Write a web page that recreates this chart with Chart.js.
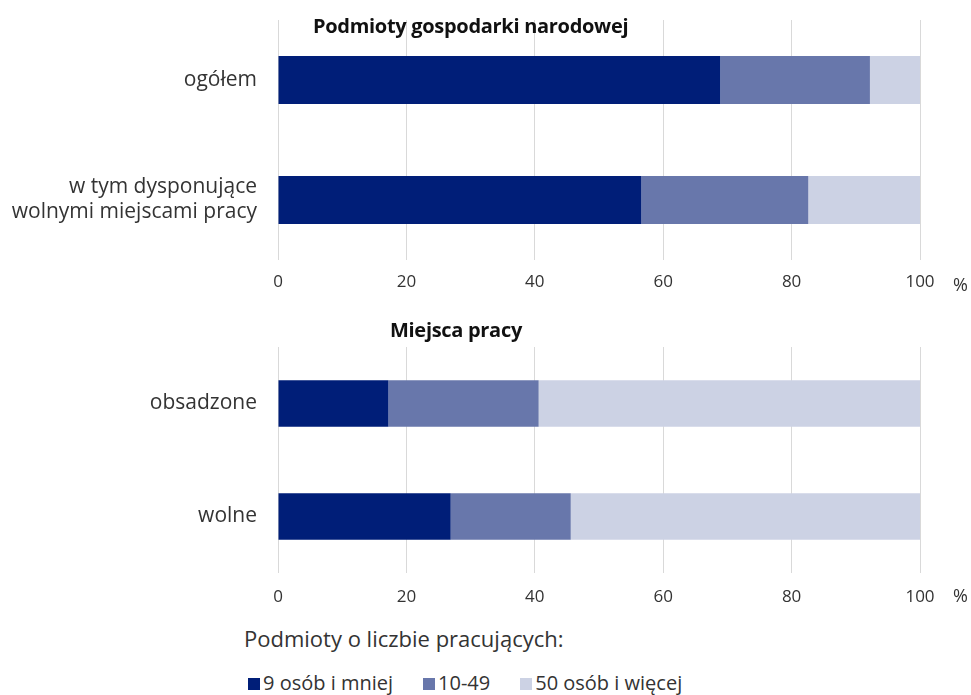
<!DOCTYPE html>
<html>
<head>
<meta charset="utf-8">
<script src="https://cdn.jsdelivr.net/npm/chart.js@4"></script>
<style>
  body { margin: 0; background: #fff; font-family: "Open Sans", sans-serif; color: #333; }
  #wrap { position: relative; width: 971px; height: 695px; overflow: hidden; }
  .box { position: absolute; left: 0; width: 971px; }
  .ttl { position: absolute; font-weight: bold; font-size: 20px; line-height: 20px; color: #111; white-space: nowrap; letter-spacing: -0.3px; }
  .pct { position: absolute; font-size: 18px; color: #333; }
  #legendTitle { position: absolute; left: 244px; top: 627px; font-size: 22px; line-height: 22px; white-space: nowrap; }
  #legend { position: absolute; left: 248px; top: 673px; font-size: 20px; line-height: 20px; display: flex; gap: 30px; white-space: nowrap; }
  #legend span.sw { display: inline-block; width: 12px; height: 12px; margin-right: 3px; }
</style>
</head>
<body>
<div id="wrap">
  <div class="box" style="top:0;height:300px"><canvas id="chartTop"></canvas></div>
  <div class="box" style="top:300px;height:313px"><canvas id="chartBottom"></canvas></div>
  <div class="ttl" style="left:313px;top:16px">Podmioty gospodarki narodowej</div>
  <div class="ttl" style="left:390px;top:320px">Miejsca pracy</div>
  <div class="pct" style="left:953px;top:272px">%</div>
  <div class="pct" style="left:953px;top:583px">%</div>
  <div id="legendTitle">Podmioty o liczbie pracujących:</div>
  <div id="legend"></div>
</div>
<script>
// dane
const series = ["9 osób i mniej", "10-49", "50 osób i więcej"];
const colors = ["#001e78", "#6877ab", "#ccd2e4"];

const catsTop = ["ogółem", ["w tym dysponujące", "wolnymi miejscami pracy"]];
const topSmall = [68.9, 56.6];
const topMid = [23.3, 26.0];
const topLarge = [7.8, 17.4];

const catsBottom = ["obsadzone", "wolne"];
const botSmall = [17.2, 26.9];
const botMid = [23.4, 18.7];
const botLarge = [59.4, 54.4];

const xTicks = [0, 20, 40, 60, 80, 100];

Chart.defaults.font.family = "'Open Sans', sans-serif";
Chart.defaults.color = "#333";
Chart.defaults.animation = false;

function makeChart(id, labels, values, padTop, barPct, tickPad) {
    return new Chart(document.getElementById(id), {
        type: "bar",
        data: {
            labels: labels,
            datasets: values.map((v, i) => ({
                label: series[i],
                data: v,
                backgroundColor: colors[i],
                barPercentage: barPct,
                categoryPercentage: 1
            }))
        },
        options: {
            indexAxis: "y",
            responsive: true,
            maintainAspectRatio: false,
            layout: { padding: { left: 0, right: 51, top: padTop, bottom: 0 } },
            plugins: {
                legend: { display: false },
                tooltip: { enabled: false }
            },
            scales: {
                x: {
                    stacked: true,
                    min: 0,
                    max: 100,
                    afterBuildTicks: s => { s.ticks = xTicks.map(v => ({ value: v })); },
                    grid: { color: "#d9d9d9", drawTicks: false },
                    border: { display: false },
                    ticks: { padding: tickPad, font: { size: 17 }, color: "#333" },
                    afterFit: s => { s.height = 40; }
                },
                y: {
                    stacked: true,
                    grid: { display: false, drawTicks: false },
                    border: { display: false },
                    ticks: { padding: 21, font: { size: 21, lineHeight: 1.19 }, color: "#333" },
                    afterFit: s => {
                        s.width = 278;
                        s.paddingTop = 0;
                        s.paddingBottom = 0;
                    }
                }
            }
        }
    });
}

makeChart("chartTop", catsTop, [topSmall, topMid, topLarge], 20, 0.4, 12);
makeChart("chartBottom", catsBottom, [botSmall, botMid, botLarge], 47, 0.41, 14);

// legenda
const leg = document.getElementById("legend");
series.forEach((s, i) => {
    const item = document.createElement("div");
    item.innerHTML = '<span class="sw" style="background:' + colors[i] + '"></span>' + s;
    leg.appendChild(item);
});
</script>
</body>
</html>
